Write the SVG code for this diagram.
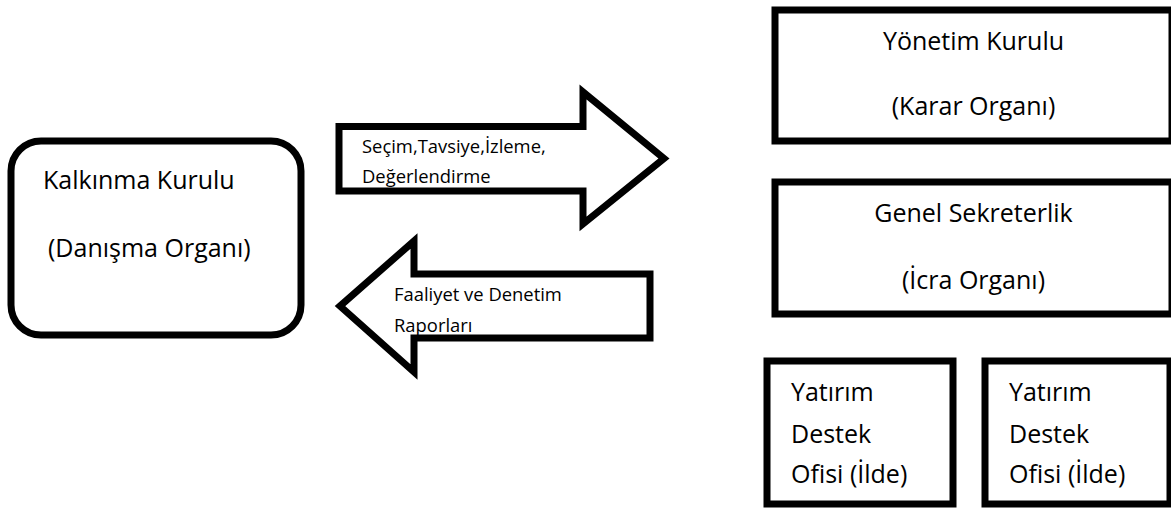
<svg xmlns="http://www.w3.org/2000/svg" width="1171" height="508" viewBox="0 0 1171 508">
<style>
.box{fill:#fff;stroke:#000;stroke-width:7}
.arr{fill:#fff;stroke:#000;stroke-width:7;stroke-linejoin:miter;stroke-miterlimit:10}
.t{font-family:"Open Sans","Noto Sans","Liberation Sans",sans-serif;font-size:25px;fill:#000}
.s{font-family:"Open Sans","Noto Sans","Liberation Sans",sans-serif;font-size:18.4px;fill:#000}
.c{text-anchor:middle}
</style>
<rect width="1171" height="508" fill="#fff"/>
<g id="connectors">
<g id="arrow-right">
<polygon class="arr" points="339,126.5 583,126.5 583,92 664,158.5 583,224 583,191 339,191"/>
<text class="s" x="362" y="153">Seçim,Tavsiye,İzleme,</text>
<text class="s" x="362" y="183">Değerlendirme</text>
</g>
<g id="arrow-left">
<polygon class="arr" points="650,274 414,274 414,241 340,306 414,372 414,338 650,338"/>
<text class="s" x="394" y="301">Faaliyet ve Denetim</text>
<text class="s" x="394" y="332">Raporları</text>
</g>
</g>
<g id="kalkinma-kurulu">
<rect class="box" x="11" y="141" width="290" height="194" rx="30" ry="30"/>
<text class="t" x="43" y="189">Kalkınma Kurulu</text>
<text class="t" x="48" y="257">(Danışma Organı)</text>
</g>
<g id="yonetim-kurulu">
<rect class="box" x="775" y="10" width="397" height="131"/>
<text class="t c" x="973.5" y="50">Yönetim Kurulu</text>
<text class="t c" x="973.5" y="115">(Karar Organı)</text>
</g>
<g id="genel-sekreterlik">
<rect class="box" x="775" y="182" width="397" height="132"/>
<text class="t c" x="973.5" y="222">Genel Sekreterlik</text>
<text class="t c" x="973.5" y="289">(İcra Organı)</text>
</g>
<g id="ydo-1">
<rect class="box" x="767" y="361" width="186" height="143"/>
<text class="t" x="791" y="401">Yatırım</text>
<text class="t" x="791" y="443">Destek</text>
<text class="t" x="791" y="483">Ofisi (İlde)</text>
</g>
<g id="ydo-2">
<rect class="box" x="985" y="361" width="185" height="143"/>
<text class="t" x="1009" y="401">Yatırım</text>
<text class="t" x="1009" y="443">Destek</text>
<text class="t" x="1009" y="483">Ofisi (İlde)</text>
</g>
</svg>
